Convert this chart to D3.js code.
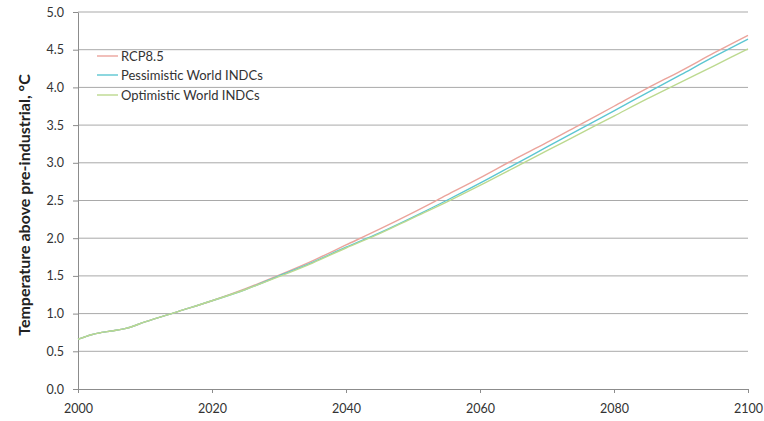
<!DOCTYPE html>
<html>
<head>
<meta charset="utf-8">
<script src="https://cdn.jsdelivr.net/npm/d3@7"></script>
<style>
  html, body { margin: 0; padding: 0; background: #fff; }
  svg { display: block; font-family: Lato, "Open Sans", sans-serif; }
</style>
</head>
<body>
<svg id="chart" width="764" height="421"></svg>
<script>
// Projected warming above pre-industrial levels, °C
const years = [2000, 2001, 2002, 2003, 2005, 2007, 2010, 2015, 2020, 2025,
               2030, 2035, 2040, 2045, 2050, 2055, 2060, 2065, 2070, 2075,
               2080, 2085, 2090, 2095, 2100];

const rcp85 = [0.66, 0.69, 0.72, 0.74, 0.77, 0.80, 0.89, 1.03, 1.17, 1.33,
               1.51, 1.70, 1.91, 2.12, 2.34, 2.57, 2.80, 3.04, 3.27, 3.51,
               3.75, 3.99, 4.22, 4.46, 4.69];

const pessimistic = [0.66, 0.69, 0.72, 0.74, 0.77, 0.80, 0.89, 1.03, 1.17, 1.32,
                     1.50, 1.68, 1.88, 2.07, 2.28, 2.50, 2.73, 2.97, 3.21, 3.45,
                     3.69, 3.93, 4.17, 4.41, 4.64];

const optimistic = [0.66, 0.69, 0.72, 0.74, 0.77, 0.80, 0.89, 1.03, 1.17, 1.32,
                    1.49, 1.67, 1.87, 2.06, 2.27, 2.48, 2.70, 2.93, 3.16, 3.39,
                    3.62, 3.85, 4.07, 4.29, 4.51];

const seriesNames = ["RCP8.5", "Pessimistic World INDCs", "Optimistic World INDCs"];
const seriesColors = ["#eba49c", "#5cc6d2", "#bcd98f"];
const seriesValues = [rcp85, pessimistic, optimistic];

const xTicks = [2000, 2020, 2040, 2060, 2080, 2100];
const yTicks = [0, 0.5, 1, 1.5, 2, 2.5, 3, 3.5, 4, 4.5, 5];
const yTitle = "Temperature above pre-industrial, °C";

const svg = d3.select("#chart");
const x = d3.scaleLinear().domain([2000, 2100]).range([78, 748]);
const y = d3.scaleLinear().domain([0, 5]).range([389, 12]);

// horizontal gridlines
svg.append("g")
  .selectAll("line")
  .data(yTicks.filter(d => d > 0))
  .join("line")
  .attr("x1", x(2000)).attr("x2", x(2100))
  .attr("y1", d => y(d)).attr("y2", d => y(d))
  .attr("stroke", "#a9a9a9").attr("stroke-width", 1);

// y axis
const yAxis = svg.append("g")
  .attr("transform", `translate(${x(2000)},0)`)
  .call(d3.axisLeft(y).tickValues(yTicks).tickFormat(d3.format(".1f")).tickSize(5).tickSizeOuter(0));

// x axis
const xAxis = svg.append("g")
  .attr("transform", `translate(0,${y(0)})`)
  .call(d3.axisBottom(x).tickValues(xTicks).tickFormat(d3.format("d")).tickSize(4).tickSizeOuter(0));

[yAxis, xAxis].forEach(g => {
  g.select(".domain").attr("stroke", "#8c8c8c");
  g.selectAll(".tick line").attr("stroke", "#8c8c8c");
  g.selectAll(".tick text")
    .attr("fill", "#333")
    .style("font-family", "Lato, sans-serif")
    .style("font-size", "12.5px");
});
yAxis.selectAll(".tick text").attr("x", -14);
xAxis.selectAll(".tick text").attr("y", 15);

// axis title
svg.append("text")
  .attr("transform", `translate(30,205) rotate(-90)`)
  .attr("text-anchor", "middle")
  .attr("fill", "#222")
  .style("font-weight", "bold")
  .style("font-size", "16px")
  .text(yTitle);

// series lines
const line = d3.line()
  .x((d, i) => x(years[i]))
  .y(d => y(d))
  .curve(d3.curveMonotoneX);

svg.append("g")
  .selectAll("path")
  .data(seriesValues)
  .join("path")
  .attr("d", d => line(d))
  .attr("fill", "none")
  .attr("stroke", (d, i) => seriesColors[i])
  .attr("stroke-width", 1.4);

// legend
const legendY = [56, 75, 95];
const legend = svg.append("g")
  .selectAll("g")
  .data(seriesNames)
  .join("g")
  .attr("transform", (d, i) => `translate(97,${legendY[i]})`);
legend.append("line")
  .attr("x1", 0).attr("x2", 21)
  .attr("stroke", (d, i) => seriesColors[i])
  .attr("stroke-width", 1.4);
legend.append("text")
  .attr("x", 24).attr("y", 4.5)
  .attr("fill", "#333")
  .style("font-size", "13px")
  .text(d => d);
</script>
</body>
</html>
